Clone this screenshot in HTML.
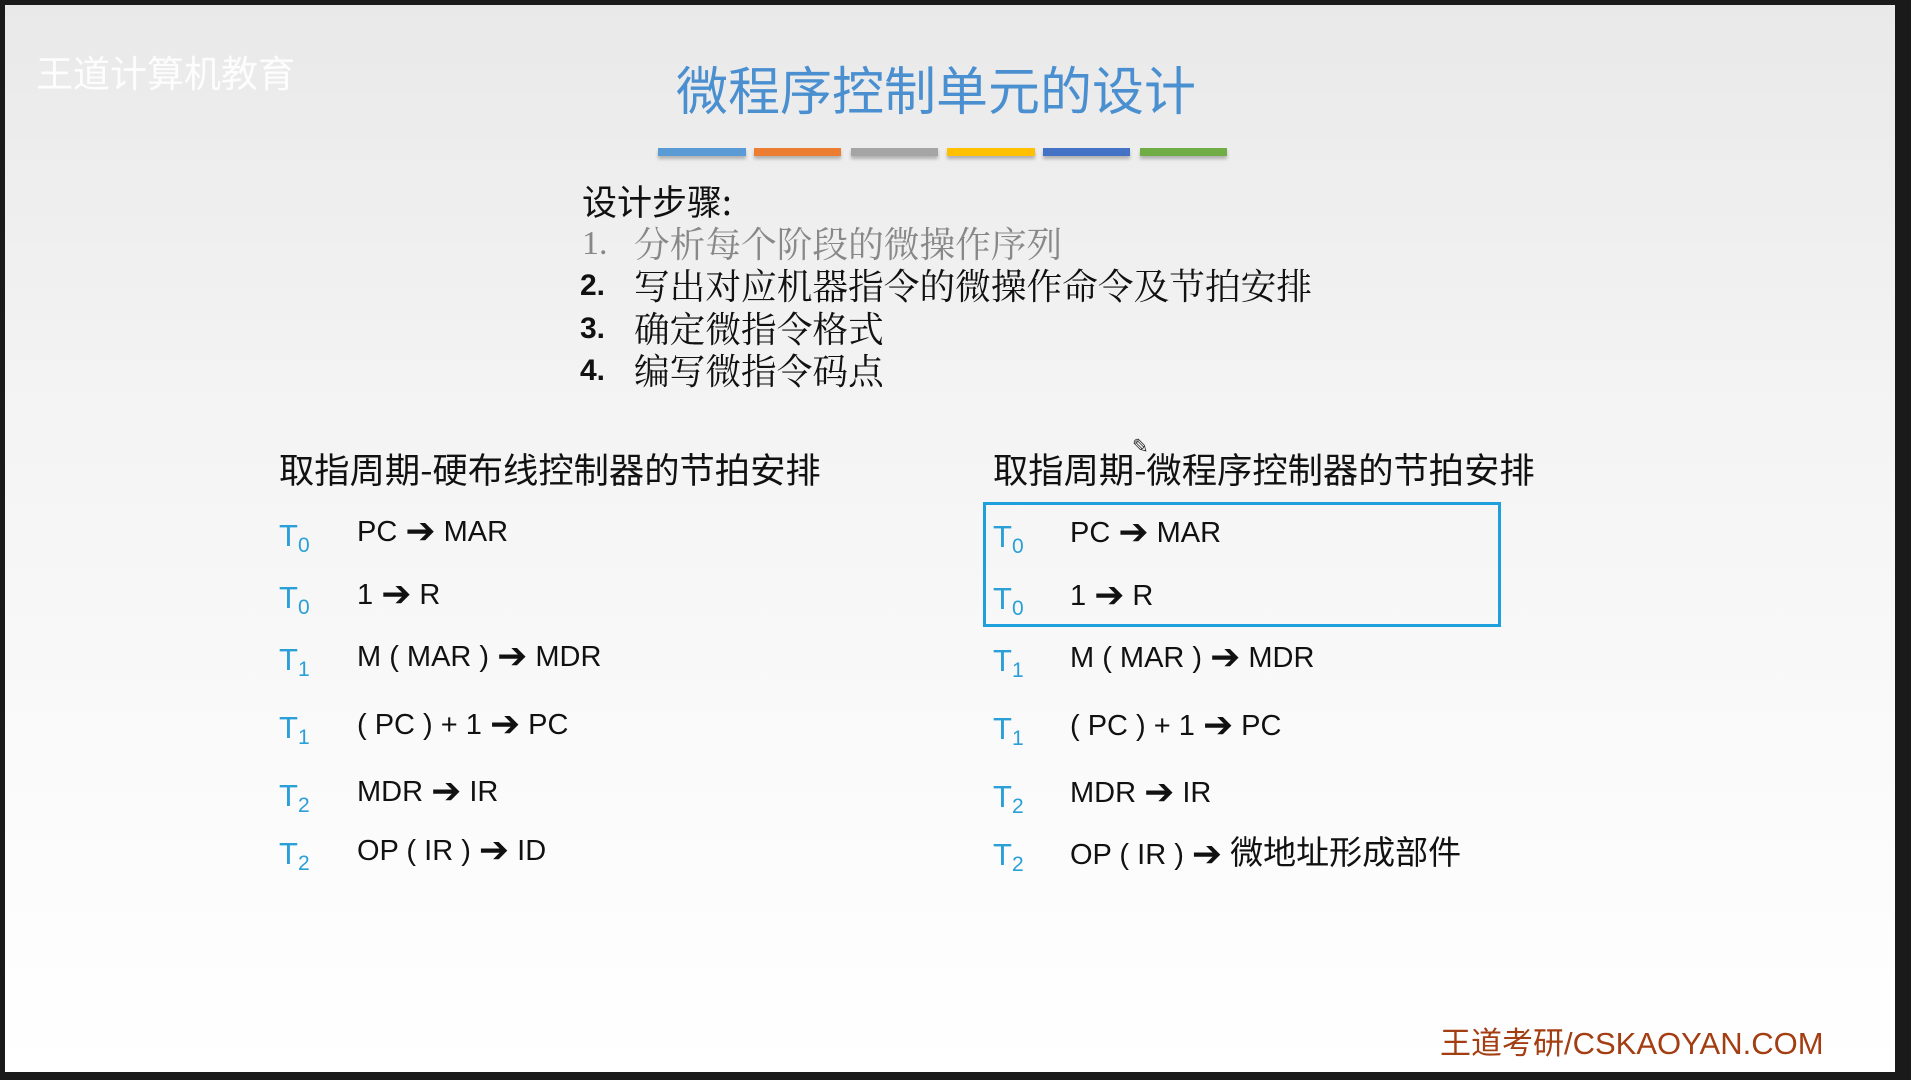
<!DOCTYPE html>
<html><head><meta charset="utf-8"><style>
html,body{margin:0;padding:0}
body{width:1911px;height:1080px;background:#1a1a1a;position:relative;overflow:hidden;font-family:"Liberation Sans","Noto Sans CJK SC",sans-serif}
#slide{position:absolute;left:5px;top:5px;width:1890px;height:1067px;background:linear-gradient(#e9e9e9 0%,#f3f3f3 35%,#fafafa 70%,#ffffff 100%)}
.a{position:absolute;white-space:nowrap;line-height:1}
.bar{position:absolute;top:148px;height:8px;box-shadow:0 3px 3px rgba(0,0,0,.25)}
.t{color:#2a9fd8;font-size:31px}
.t sub{font-size:21px;vertical-align:-6px}
.e{font-size:29px;color:#111}
.r{font-family:"DejaVu Sans",sans-serif;font-size:36px;line-height:0;vertical-align:-2px}
</style></head><body>
<div id="slide"></div>
<div class="a" style="left:36px;top:53px;font-size:37px;color:#fff;opacity:.9;font-family:'Noto Sans CJK SC',sans-serif">王道计算机教育</div>
<div class="a" style="left:676px;top:62px;font-size:52px;color:#4a8fd0;font-family:'Noto Sans CJK SC',sans-serif">微程序控制单元的设计</div>
<div class="bar" style="left:658px;width:88px;background:#5b9bd5"></div>
<div class="bar" style="left:754px;width:87px;background:#ed7d31"></div>
<div class="bar" style="left:851px;width:87px;background:#a5a5a5"></div>
<div class="bar" style="left:947px;width:88px;background:#ffc000"></div>
<div class="bar" style="left:1043px;width:87px;background:#4472c4"></div>
<div class="bar" style="left:1140px;width:87px;background:#70ad47"></div>

<div class="a" style="left:582px;top:183px;font-size:35px;color:#111;font-family:'Noto Sans CJK SC',sans-serif">设计步骤:</div>
<div class="a" style="left:582px;top:227px;font-size:34px;color:#888;font-family:'Liberation Serif','Noto Serif CJK SC',serif">1.</div>
<div class="a" style="left:634px;top:225px;font-size:35.7px;color:#888;font-family:'Noto Serif CJK SC',serif">分析每个阶段的微操作序列</div>
<div class="a" style="left:580px;top:271px;font-size:30px;color:#111;font-weight:bold">2.</div>
<div class="a" style="left:634px;top:267px;font-size:35.7px;color:#111;font-family:'Noto Serif CJK SC',serif">写出对应机器指令的微操作命令及节拍安排</div>
<div class="a" style="left:580px;top:314px;font-size:30px;color:#111;font-weight:bold">3.</div>
<div class="a" style="left:634px;top:310px;font-size:35.7px;color:#111;font-family:'Noto Serif CJK SC',serif">确定微指令格式</div>
<div class="a" style="left:580px;top:356px;font-size:30px;color:#111;font-weight:bold">4.</div>
<div class="a" style="left:634px;top:352px;font-size:35.7px;color:#111;font-family:'Noto Serif CJK SC',serif">编写微指令码点</div>

<div class="a" style="left:279px;top:451px;font-size:35.3px;color:#111;font-family:'Noto Sans CJK SC',sans-serif">取指周期-硬布线控制器的节拍安排</div>
<div class="a" style="left:993px;top:451px;font-size:35.3px;color:#111;font-family:'Noto Sans CJK SC',sans-serif">取指周期-微程序控制器的节拍安排</div>
<div class="a" style="left:1132px;top:437px;font-size:20px;color:#333">✎</div>

<div style="position:absolute;left:983px;top:502px;width:512px;height:119px;border:3px solid #1ea0dc"></div>

<div class="a t" style="left:279px;top:520px">T<sub>0</sub></div><div class="a e" style="left:357px;top:518px">PC <span class="r">➔</span> MAR</div>
<div class="a t" style="left:279px;top:582px">T<sub>0</sub></div><div class="a e" style="left:357px;top:581px">1 <span class="r">➔</span> R</div>
<div class="a t" style="left:279px;top:644px">T<sub>1</sub></div><div class="a e" style="left:357px;top:643px">M ( MAR ) <span class="r">➔</span> MDR</div>
<div class="a t" style="left:279px;top:712px">T<sub>1</sub></div><div class="a e" style="left:357px;top:711px">( PC ) + 1 <span class="r">➔</span> PC</div>
<div class="a t" style="left:279px;top:780px">T<sub>2</sub></div><div class="a e" style="left:357px;top:778px">MDR <span class="r">➔</span> IR</div>
<div class="a t" style="left:279px;top:838px">T<sub>2</sub></div><div class="a e" style="left:357px;top:837px">OP ( IR ) <span class="r">➔</span> ID</div>

<div class="a t" style="left:993px;top:521px">T<sub>0</sub></div><div class="a e" style="left:1070px;top:519px">PC <span class="r">➔</span> MAR</div>
<div class="a t" style="left:993px;top:583px">T<sub>0</sub></div><div class="a e" style="left:1070px;top:582px">1 <span class="r">➔</span> R</div>
<div class="a t" style="left:993px;top:645px">T<sub>1</sub></div><div class="a e" style="left:1070px;top:644px">M ( MAR ) <span class="r">➔</span> MDR</div>
<div class="a t" style="left:993px;top:713px">T<sub>1</sub></div><div class="a e" style="left:1070px;top:712px">( PC ) + 1 <span class="r">➔</span> PC</div>
<div class="a t" style="left:993px;top:781px">T<sub>2</sub></div><div class="a e" style="left:1070px;top:779px">MDR <span class="r">➔</span> IR</div>
<div class="a t" style="left:993px;top:839px">T<sub>2</sub></div><div class="a e" style="left:1070px;top:836px">OP ( IR ) <span class="r">➔</span> <span style="font-size:33px">微地址形成部件</span></div>

<div class="a" style="left:1440px;top:1028px;font-size:31px;color:#a33d12">王道考研/CSKAOYAN.COM</div>
</body></html>
